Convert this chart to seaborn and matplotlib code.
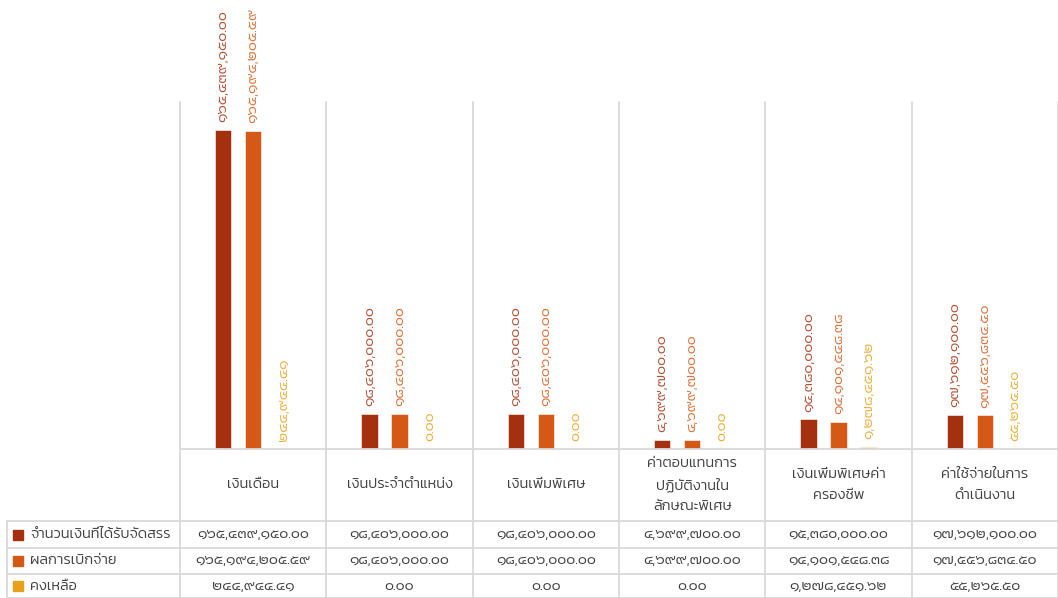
import matplotlib
matplotlib.use("Agg")
import matplotlib.pyplot as plt
from matplotlib import transforms
from matplotlib.lines import Line2D
import seaborn as sns
import pandas as pd

# ---------------- data ----------------
categories = [
    "เงินเดือน",
    "เงินประจำตำแหน่ง",
    "เงินเพิ่มพิเศษ",
    "ค่าตอบแทนการ\nปฏิบัติงานใน\nลักษณะพิเศษ",
    "เงินเพิ่มพิเศษค่า\nครองชีพ",
    "ค่าใช้จ่ายในการ\nดำเนินงาน",
]
series_names = ["จำนวนเงินที่ได้รับจัดสรร", "ผลการเบิกจ่าย", "คงเหลือ"]
allocated = [165439150.00, 18406000.00, 18406000.00, 4699700.00, 15380000.00, 17612100.00]
disbursed = [165194205.59, 18406000.00, 18406000.00, 4699700.00, 14101548.38, 17556834.50]
remaining = [244944.41, 0.00, 0.00, 0.00, 1278451.62, 55265.50]
colors = ["#A5300F", "#D55816", "#E6A118"]

# ---------------- style ----------------
sns.set_theme(style="white")
plt.rcParams["font.family"] = ["Kanit", "Prompt", "Loma", "DejaVu Sans"]
plt.rcParams["font.weight"] = 300
TXT = "#404040"
GRID = "#D9D9D9"

THAI = str.maketrans("0123456789", "๐๑๒๓๔๕๖๗๘๙")
def fmt(v):
    return f"{v:,.2f}".translate(THAI)

values = [allocated, disbursed, remaining]
rows = []
for s, vals in zip(series_names, values):
    for c, v in zip(categories, vals):
        rows.append({"category": c, "series": s, "value": v})
df = pd.DataFrame(rows)

W, H = 1058, 598
fig = plt.figure(figsize=(W / 100, H / 100), dpi=100)
ax_left, ax_right, ax_top, ax_bot = 180, 1058, 102, 449
ax = fig.add_axes([ax_left / W, 1 - ax_bot / H, (ax_right - ax_left) / W, (ax_bot - ax_top) / H])

sns.barplot(data=df, x="category", y="value", hue="series", order=categories,
            hue_order=series_names, palette=colors, saturation=1,
            width=0.615, gap=0.46, errorbar=None, legend=False, ax=ax,
            edgecolor="white", linewidth=0.4)

ax.set_xlim(-0.5, len(categories) - 0.5)
ax.set_ylim(0, 180_000_000)
for sp in ax.spines.values():
    sp.set_visible(False)
ax.set_xticks([])
ax.set_yticks([])
ax.set_xlabel("")
ax.set_ylabel("")

# data labels
for cont, vals, col in zip(ax.containers, values, colors):
    ax.bar_label(cont, labels=[fmt(v) for v in vals], rotation=90, padding=5.5,
                 color=col, fontsize=10.5, alpha=0.85)

def fy(ypx):
    return 1 - ypx / H

blend = transforms.blended_transform_factory(ax.transData, fig.transFigure)

# vertical grid lines (category boundaries)
for k in range(len(categories) + 1):
    xb = k - 0.5
    fig.add_artist(Line2D([xb, xb], [fy(ax_top), fy(H)], transform=blend,
                          color=GRID, lw=1.3, clip_on=False))
# horizontal axis line
fig.add_artist(Line2D([ax_left / W, 1], [fy(ax_bot), fy(ax_bot)], transform=fig.transFigure,
                      color=GRID, lw=1.3))
# table lines
row_lines = [521, 548, 574, 597.5]
for yl in row_lines:
    fig.add_artist(Line2D([7 / W, 1], [fy(yl), fy(yl)], transform=fig.transFigure,
                          color=GRID, lw=1.3))
fig.add_artist(Line2D([7 / W, 7 / W], [fy(521), fy(H)], transform=fig.transFigure,
                      color=GRID, lw=1.3))

# category labels
for i, c in enumerate(categories):
    fig.text(i, fy(485), c, transform=blend, ha="center", va="center",
             fontsize=10.5, color=TXT, linespacing=1.75)

# table rows
row_centers = [534.5, 561, 586]
for r, (s, vals, col) in enumerate(zip(series_names, values, colors)):
    yc = fy(row_centers[r])
    fig.patches.append(plt.Rectangle((13 / W, yc - 5 / H), 10 / W, 10 / H,
                                     transform=fig.transFigure, color=col, figure=fig))
    fig.text(30 / W, yc, s, ha="left", va="center", fontsize=10.5, color=TXT)
    for i, v in enumerate(vals):
        fig.text(i, yc, fmt(v), transform=blend, ha="center", va="center",
                 fontsize=10.5, color=TXT)

fig.savefig("out.png", dpi=100)
